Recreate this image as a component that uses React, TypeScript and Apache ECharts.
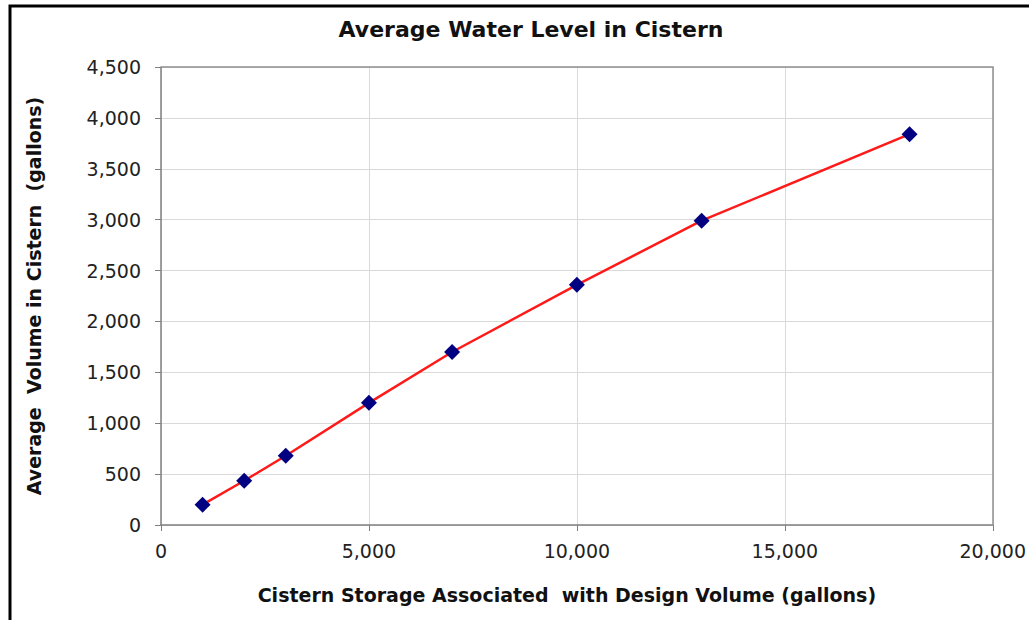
import React, { useEffect, useRef } from "react";
import * as echarts from "echarts";

const storage = [1000, 2000, 3000, 5000, 7000, 10000, 13000, 18000];
const avgVolume = [200, 435, 680, 1200, 1700, 2360, 2990, 3840];

const title = "Average Water Level in Cistern";
const xName = "Cistern Storage Associated  with Design Volume (gallons)";
const yName = "Average  Volume in Cistern  (gallons)";

const fmt = (v: number) => v.toLocaleString("en-US");

export default function App() {
  const ref = useRef<HTMLDivElement>(null);
  useEffect(() => {
    if (!ref.current) return;
    const chart = echarts.init(ref.current, null, { renderer: "svg" });
    const font = "'DejaVu Sans', 'Liberation Sans', Arial, sans-serif";
    chart.setOption({
      animation: false,
      backgroundColor: "#ffffff",
      textStyle: { fontFamily: font },
      title: {
        text: title,
        left: 526,
        textAlign: "center",
        top: 13,
        textStyle: { fontFamily: font, fontSize: 22, fontWeight: "bold", color: "#111" },
      },
      graphic: [
        {
          type: "polyline",
          shape: { points: [[10, 640], [10, 6], [1050, 6]] },
          style: { stroke: "#000", lineWidth: 3, fill: null },
          silent: true,
        },
        {
          type: "polyline",
          shape: { points: [[161, 67], [993, 67], [993, 525]] },
          style: { stroke: "#909090", lineWidth: 1.5, fill: null },
          silent: true,
          z: 1,
        },
      ],
      grid: { left: 161, right: 36, top: 67, bottom: 95, containLabel: false },
      xAxis: {
        type: "value",
        min: 0,
        max: 20000,
        interval: 5000,
        name: xName,
        nameLocation: "middle",
        nameGap: 60,
        nameTextStyle: {
          fontFamily: font,
          fontSize: 19,
          fontWeight: "bold",
          color: "#111",
          padding: [0, 20, 0, 0],
        },
        axisLine: { show: true, lineStyle: { color: "#808080", width: 1.5 } },
        axisTick: { show: true, length: 6, lineStyle: { color: "#808080" } },
        axisLabel: { fontFamily: font, fontSize: 19, color: "#222", margin: 16, formatter: fmt },
        splitLine: { show: true, lineStyle: { color: "#d9d9d9", width: 1 } },
      },
      yAxis: {
        type: "value",
        min: 0,
        max: 4500,
        interval: 500,
        name: yName,
        nameLocation: "middle",
        nameGap: 118,
        nameTextStyle: { fontFamily: font, fontSize: 19, fontWeight: "bold", color: "#111" },
        axisLine: { show: true, lineStyle: { color: "#808080", width: 1.5 } },
        axisTick: { show: true, length: 6, lineStyle: { color: "#808080" } },
        axisLabel: { fontFamily: font, fontSize: 19, color: "#222", margin: 20, formatter: fmt },
        splitLine: { show: true, lineStyle: { color: "#d9d9d9", width: 1 } },
      },
      series: [
        {
          type: "line",
          data: storage.map((x, i) => [x, avgVolume[i]]),
          symbol: "diamond",
          symbolSize: 16,
          itemStyle: { color: "#000080" },
          lineStyle: { color: "#ff1a1a", width: 2.5 },
        },
      ],
    });
    return () => chart.dispose();
  }, []);
  return (
    <div
      ref={ref}
      style={{ position: "absolute", left: 0, top: 0, width: 1029, height: 620 }}
    />
  );
}
